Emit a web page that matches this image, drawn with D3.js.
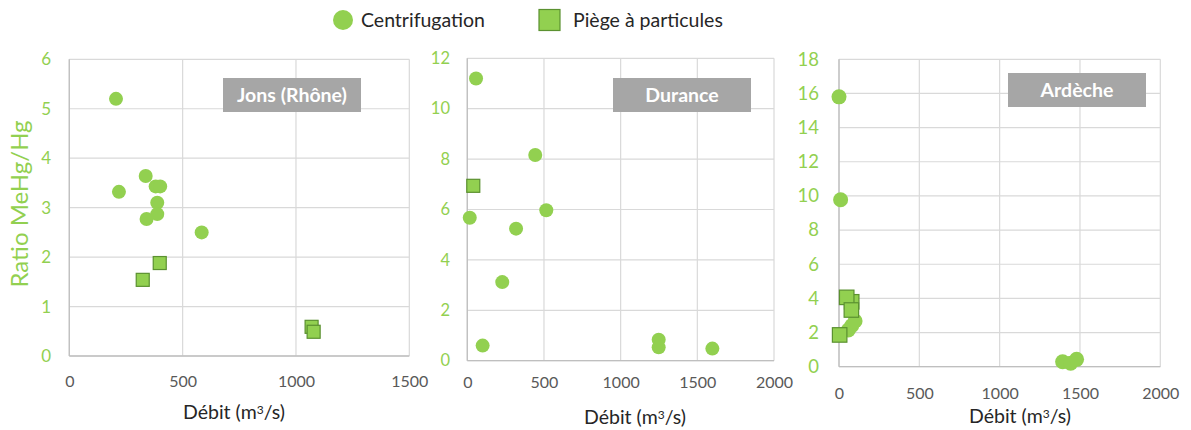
<!DOCTYPE html>
<html><head><meta charset="utf-8">
<script src="https://cdn.jsdelivr.net/npm/d3@7"></script>
<style>body{margin:0;background:#fff;} svg{display:block;font-family:Lato,'Open Sans',sans-serif;}</style>
</head><body><svg id="c" width="1191" height="430"></svg>
<script>
// ---- data ----
const panelNames = ["Jons (Rhône)", "Durance", "Ardèche"];
const xMaxes = [1500, 2000, 2000];
const xTickValues = [[0,500,1000,1500],[0,500,1000,1500,2000],[0,500,1000,1500,2000]];
const yMaxes = [6, 12, 18];
const yTickSteps = [1, 2, 2];

const jonsCentriX = [206, 219, 337, 381, 401, 388, 388, 341, 584];
const jonsCentriY = [5.2, 3.32, 3.64, 3.43, 3.43, 3.10, 2.87, 2.77, 2.50];
const jonsPiegeX = [324, 399, 1069, 1078];
const jonsPiegeY = [1.54, 1.88, 0.59, 0.49];

const duranceCentriX = [57, 443, 515, 16, 318, 228, 100, 1248, 1248, 1598];
const duranceCentriY = [11.2, 8.16, 5.97, 5.67, 5.24, 3.12, 0.6, 0.83, 0.53, 0.48];
const durancePiegeX = [39];
const durancePiegeY = [6.94];

const ardecheCentriX = [0, 10, 58, 79, 100, 1392, 1442, 1479];
const ardecheCentriY = [15.8, 9.78, 2.15, 2.4, 2.68, 0.29, 0.2, 0.43];
const ardechePiegeX = [79, 48, 77, 4];
const ardechePiegeY = [3.8, 4.06, 3.32, 1.86];

const legendLabels = ["Centrifugation", "Piège à particules"];
const yTitle = "Ratio MeHg/Hg";

// ---- layout ----
const green = "#92D050", sqStroke = "#5B9130";
const layouts = [
  {x0:69.3, x1:409.3, yTop:59.3, yBot:356, tickR:51, tickFont:17, xTickY:381, xTitleX:234, xTitleY:412, box:[223,78,138,34], markR:7, sq:13},
  {x0:467.3, x1:774, yTop:58.3, yBot:360.7, tickR:450, tickFont:16.5, xTickY:382, xTitleX:635, xTitleY:417, box:[613,78,138,34], markR:7, sq:13},
  {x0:839, x1:1160.3, yTop:59.3, yBot:366.7, tickR:819, tickFont:18.5, xTickY:393, xTitleX:1020, xTitleY:416, box:[1008,73,138,34], markR:7.5, sq:14.5}
];
const centriX = [jonsCentriX, duranceCentriX, ardecheCentriX];
const centriY = [jonsCentriY, duranceCentriY, ardecheCentriY];
const piegeX = [jonsPiegeX, durancePiegeX, ardechePiegeX];
const piegeY = [jonsPiegeY, durancePiegeY, ardechePiegeY];

const svg = d3.select("#c");
const fmt = d3.format("d");

layouts.forEach((L, i) => {
  const x = d3.scaleLinear().domain([0, xMaxes[i]]).range([L.x0, L.x1]);
  const y = d3.scaleLinear().domain([0, yMaxes[i]]).range([L.yBot, L.yTop]);
  const yTicks = d3.range(0, yMaxes[i] + 0.001, yTickSteps[i]);
  const g = svg.append("g");

  // gridlines
  g.append("g").selectAll("line").data(yTicks).join("line")
    .attr("x1", L.x0).attr("x2", L.x1).attr("y1", d => y(d)).attr("y2", d => y(d))
    .attr("stroke", "#D9D9D9").attr("stroke-width", 1.2);
  g.append("g").selectAll("line").data(xTickValues[i]).join("line")
    .attr("x1", d => x(d)).attr("x2", d => x(d)).attr("y1", L.yTop).attr("y2", L.yBot)
    .attr("stroke", "#D9D9D9").attr("stroke-width", 1.2);
  // axes lines
  g.append("line").attr("x1", L.x0).attr("x2", L.x1).attr("y1", L.yBot).attr("y2", L.yBot)
    .attr("stroke", "#BFBFBF").attr("stroke-width", 1.3);
  g.append("line").attr("x1", L.x0).attr("x2", L.x0).attr("y1", L.yTop).attr("y2", L.yBot)
    .attr("stroke", "#BFBFBF").attr("stroke-width", 1.3);

  // y tick labels
  const yAxis = d3.axisLeft(y).tickValues(yTicks).tickFormat(fmt).tickSize(0).tickPadding(0);
  const ya = g.append("g").attr("transform", `translate(${L.tickR},0)`).call(yAxis);
  ya.select(".domain").remove();
  ya.selectAll("text").attr("fill", green).style("font-size", L.tickFont + "px")
    .style("font-family", "Lato,'Open Sans',sans-serif");

  // x tick labels
  const xAxis = d3.axisBottom(x).tickValues(xTickValues[i]).tickFormat(fmt).tickSize(0).tickPadding(0);
  const xa = g.append("g").attr("transform", `translate(0,${L.xTickY})`).call(xAxis);
  xa.select(".domain").remove();
  xa.selectAll("text").attr("fill", "#595959").attr("dy", "0.35em").style("font-size", "16px")
    .style("font-family", "Lato,'Open Sans',sans-serif");

  // x title
  const t = g.append("text").attr("x", L.xTitleX).attr("y", L.xTitleY).attr("dy", "0.35em")
    .attr("text-anchor", "middle").attr("fill", "#262626").style("font-size", "19.5px");
  t.append("tspan").text("Débit (m");
  t.append("tspan").text("3").attr("dy", "-0.4em").style("font-size", "12px");
  t.append("tspan").text("/s)").attr("dy", "0.25em");

  // title box
  g.append("rect").attr("x", L.box[0]).attr("y", L.box[1]).attr("width", L.box[2]).attr("height", L.box[3])
    .attr("fill", "#A6A6A6");
  g.append("text").attr("x", L.box[0] + L.box[2] / 2).attr("y", L.box[1] + L.box[3] / 2).attr("dy", "0.36em")
    .attr("text-anchor", "middle").attr("fill", "#fff").style("font-size", "19.5px").style("font-weight", "bold")
    .text(panelNames[i]);

  // circles
  const cData = centriX[i].map((v, k) => [v, centriY[i][k]]);
  g.append("g").selectAll("circle").data(cData).join("circle")
    .attr("cx", d => x(d[0])).attr("cy", d => y(d[1])).attr("r", L.markR).attr("fill", green);
  // squares
  const sData = piegeX[i].map((v, k) => [v, piegeY[i][k]]);
  g.append("g").selectAll("rect").data(sData).join("rect")
    .attr("x", d => x(d[0]) - L.sq / 2).attr("y", d => y(d[1]) - L.sq / 2)
    .attr("width", L.sq).attr("height", L.sq)
    .attr("fill", green).attr("stroke", sqStroke).attr("stroke-width", 1.2);
});

// y title
svg.append("text").attr("transform", "translate(20,204) rotate(-90)").attr("dy", "0.35em")
  .attr("text-anchor", "middle").attr("fill", green).style("font-size", "24px").text(yTitle);

// legend
const lg = svg.append("g");
lg.append("circle").attr("cx", 343).attr("cy", 20).attr("r", 10).attr("fill", green);
lg.append("text").attr("x", 361).attr("y", 20).attr("dy", "0.35em").attr("fill", "#262626")
  .style("font-size", "19.5px").text(legendLabels[0]);
lg.append("rect").attr("x", 539).attr("y", 9.5).attr("width", 21).attr("height", 21)
  .attr("fill", green).attr("stroke", sqStroke).attr("stroke-width", 1.2);
lg.append("text").attr("x", 573).attr("y", 20).attr("dy", "0.35em").attr("fill", "#262626")
  .style("font-size", "19.5px").text(legendLabels[1]);
</script></body></html>
